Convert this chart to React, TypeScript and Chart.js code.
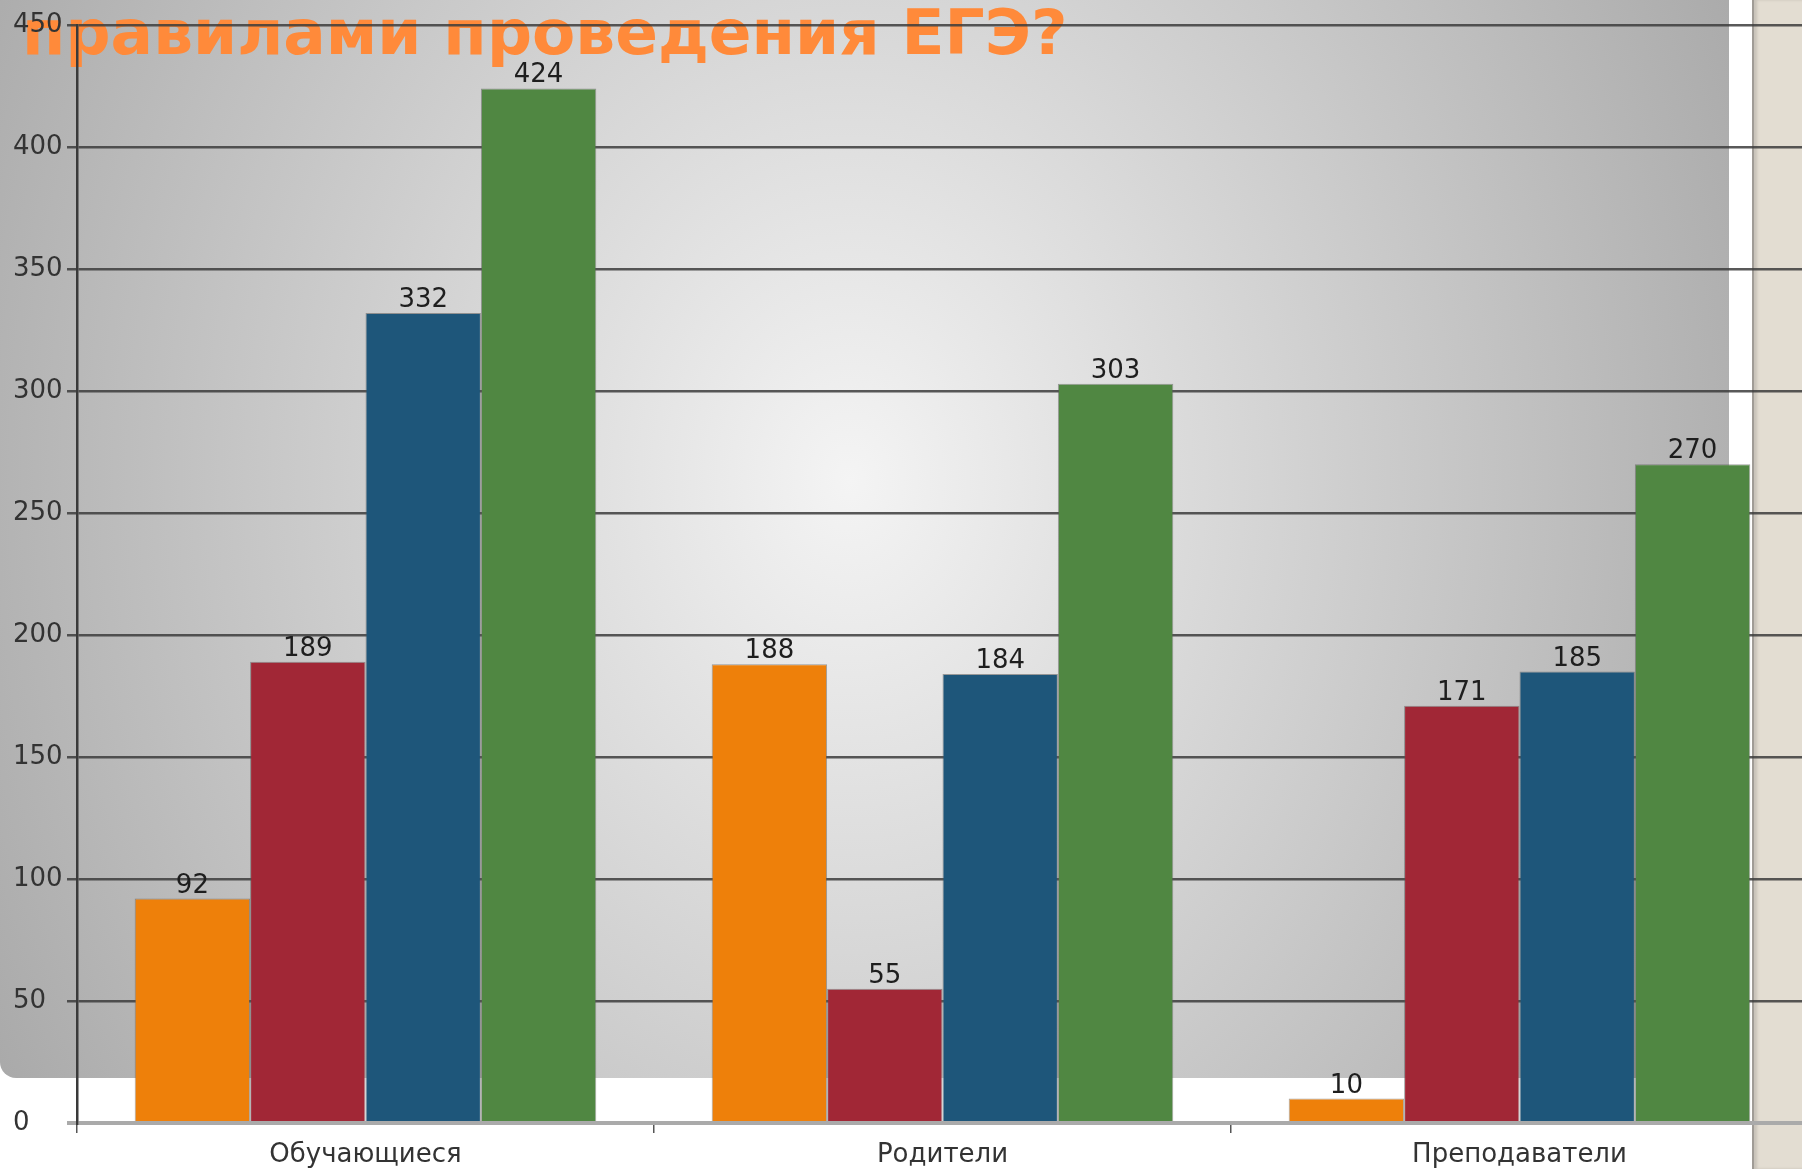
import React, { useEffect, useRef } from 'react';
import { Chart, registerables } from 'chart.js';

Chart.register(...registerables);

const categories = ['Обучающиеся', 'Родители', 'Преподаватели'];
const seriesNames = ['Ряд 1', 'Ряд 2', 'Ряд 3', 'Ряд 4'];
const series1 = [92, 188, 10];
const series2 = [189, 55, 171];
const series3 = [332, 184, 185];
const series4 = [424, 303, 270];
const seriesColors = ['#EE800A', '#A12736', '#1E567A', '#508742'];
const yMin = 0;
const yMax = 450;
const yStep = 50;
const titleText = 'правилами проведения ЕГЭ?';

const CANVAS_W = 1810;
const CANVAS_H = 1169;

export default function App() {
  const canvasRef = useRef<HTMLCanvasElement | null>(null);

  useEffect(() => {
    const canvas = canvasRef.current;
    if (!canvas) return;

    const titlePlugin = {
      id: 'slideTitle',
      beforeDraw(chart: any) {
        const ctx = chart.ctx;
        ctx.save();
        ctx.font = 'bold 63px "DejaVu Sans"';
        ctx.fillStyle = '#FF8A3A';
        ctx.textAlign = 'left';
        ctx.textBaseline = 'alphabetic';
        ctx.fillText(titleText, 22, 54);
        ctx.restore();
      },
    };

    const valueLabels = {
      id: 'valueLabels',
      afterDatasetsDraw(chart: any) {
        const ctx = chart.ctx;
        ctx.save();
        ctx.font = '26px "DejaVu Sans"';
        ctx.fillStyle = '#1e1e1e';
        ctx.textAlign = 'center';
        ctx.textBaseline = 'alphabetic';
        chart.data.datasets.forEach((ds: any, i: number) => {
          const meta = chart.getDatasetMeta(i);
          meta.data.forEach((bar: any, j: number) => {
            ctx.fillText(String(ds.data[j]), bar.x, bar.y - 6);
          });
        });
        ctx.restore();
      },
    };

    const allSeries = [series1, series2, series3, series4];

    const chart = new Chart(canvas, {
      type: 'bar',
      data: {
        labels: categories,
        datasets: allSeries.map((d, i) => ({
          label: seriesNames[i],
          data: d,
          backgroundColor: seriesColors[i],
          borderColor: 'rgba(90,90,90,0.55)',
          borderWidth: 1,
          categoryPercentage: 0.8,
          barPercentage: 1.0,
        })),
      },
      options: {
        responsive: false,
        animation: false,
        devicePixelRatio: 1,
        layout: { padding: { left: 13, right: 2, top: 25, bottom: 0 } },
        plugins: {
          legend: { display: false },
          tooltip: { enabled: false },
          title: { display: false },
        },
        scales: {
          x: {
            offset: true,
            grid: {
              display: true,
              offset: true,
              drawOnChartArea: false,
              drawTicks: true,
              tickLength: 10,
              color: '#555555',
              lineWidth: 1.5,
            },
            border: { display: false },
            ticks: {
              font: { family: '"DejaVu Sans"', size: 26 },
              color: '#333333',
              padding: 7,
              maxRotation: 0,
              autoSkip: false,
            },
            afterFit(scale: any) {
              scale.height = 46;
            },
          },
          y: {
            min: yMin,
            max: yMax,
            grid: {
              display: true,
              drawTicks: true,
              tickLength: 10,
              color: (c: any) => (c.tick && c.tick.value === 0 ? '#aaaaaa' : 'rgba(60,60,60,0.85)'),
              lineWidth: (c: any) => (c.tick && c.tick.value === 0 ? 4 : 2.5),
            },
            border: { display: true, color: '#3a3a3a', width: 2.5 },
            ticks: {
              stepSize: yStep,
              crossAlign: 'far',
              padding: 4,
              font: { family: '"DejaVu Sans"', size: 26 },
              color: '#333333',
            },
            afterFit(scale: any) {
              scale.width = 64;
            },
          },
        },
      },
      plugins: [titlePlugin, valueLabels],
    });

    return () => chart.destroy();
  }, []);

  return (
    <div
      style={{
        position: 'fixed',
        left: 0,
        top: 0,
        width: 1802,
        height: 1169,
        overflow: 'hidden',
        background: '#ffffff',
      }}
    >
      <div
        style={{
          position: 'absolute',
          left: 1752,
          top: 0,
          width: 60,
          height: 1169,
          background: '#E3DDD2',
          borderLeft: '2px solid #a09c96',
          boxShadow: 'inset 3px 0 3px rgba(0,0,0,0.12)',
        }}
      />
      <div
        style={{
          position: 'absolute',
          left: 0,
          top: 0,
          width: 1729,
          height: 1078,
          borderBottomLeftRadius: 16,
          background:
            'radial-gradient(ellipse 1050px 1300px at 850px 480px, #f4f4f4 0%, #a4a4a4 100%)',
        }}
      />
      <canvas
        ref={canvasRef}
        width={CANVAS_W}
        height={CANVAS_H}
        style={{ position: 'absolute', left: 0, top: 0, width: CANVAS_W, height: CANVAS_H }}
      />
    </div>
  );
}
